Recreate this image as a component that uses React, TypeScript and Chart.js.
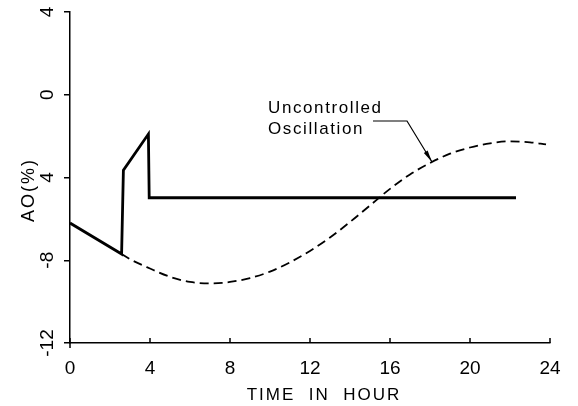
import React, { useEffect, useRef } from "react";
import { Chart, registerables } from "chart.js";

Chart.register(...registerables);

// ---- data ----
const xTickValues = [0, 4, 8, 12, 16, 20, 24];
const yTickValues = [-12, -8, -4, 0, 4];
const yTickLabels = ["-12", "-8", "4", "0", "4"];

const controlledX = [0, 2.58, 2.67, 3.92, 3.96, 22.3];
const controlledY = [-6.2, -7.7, -3.65, -1.9, -4.98, -4.98];

const uncontrolledX = [2.58, 3, 4, 5, 6, 7, 8, 9, 10, 11, 12, 13, 14, 15, 16, 17, 18, 19, 20, 21, 22, 23, 23.8];
const uncontrolledY = [-7.7, -7.95, -8.4, -8.8, -9.05, -9.12, -9.05, -8.86, -8.55, -8.1, -7.55, -6.9, -6.15, -5.35, -4.55, -3.85, -3.3, -2.85, -2.55, -2.35, -2.25, -2.3, -2.4];

const annotationLines = ["Uncontrolled", "Oscillation"];
const annotationTextX = 9.9;
const annotationTextY = [-0.64, -1.65];
const leaderX = [15.15, 16.85, 18.1];
const leaderY = [-1.27, -1.27, -3.25];

const xTitle = "TIME  IN  HOUR";
const yTitle = "AO(%)";

const FONT = "'Liberation Sans', Arial, sans-serif";

const toPoints = (xs: number[], ys: number[]) => xs.map((x, i) => ({ x, y: ys[i] }));

const overlay = {
  id: "overlay",
  afterDraw(chart: any) {
    const { ctx, scales, chartArea } = chart;
    const xs = scales.x;
    const ys = scales.y;
    ctx.save();
    ctx.fillStyle = "#000";
    ctx.strokeStyle = "#000";

    // x tick marks (inward) and y axis extension below origin
    ctx.lineWidth = 1.5;
    ctx.beginPath();
    xTickValues.forEach((v) => {
      const px = xs.getPixelForValue(v);
      ctx.moveTo(px, chartArea.bottom);
      ctx.lineTo(px, chartArea.bottom - 5);
    });
    ctx.moveTo(chartArea.left, chartArea.bottom);
    ctx.lineTo(chartArea.left, chartArea.bottom + 5);
    ctx.stroke();

    // y tick labels (rotated)
    ctx.font = `19px ${FONT}`;
    ctx.textAlign = "center";
    ctx.textBaseline = "middle";
    yTickValues.forEach((v, i) => {
      const py = ys.getPixelForValue(v);
      ctx.save();
      ctx.translate(48, py);
      ctx.rotate(-Math.PI / 2);
      ctx.fillText(yTickLabels[i], 0, 0);
      ctx.restore();
    });

    // y title
    ctx.save();
    ctx.font = `18px ${FONT}`;
    (ctx as any).letterSpacing = "2px";
    ctx.translate(29, 190);
    ctx.rotate(-Math.PI / 2);
    ctx.fillText(yTitle, 0, 0);
    ctx.restore();

    // x title
    ctx.save();
    ctx.font = `17px ${FONT}`;
    (ctx as any).letterSpacing = "2px";
    ctx.fillText(xTitle, 324, 395);
    ctx.restore();

    // annotation text
    ctx.save();
    ctx.font = `17px ${FONT}`;
    (ctx as any).letterSpacing = "1.6px";
    ctx.textAlign = "left";
    annotationLines.forEach((t, i) => {
      ctx.fillText(t, xs.getPixelForValue(annotationTextX), ys.getPixelForValue(annotationTextY[i]));
    });
    ctx.restore();

    // leader line
    const pts = leaderX.map((x, i) => [xs.getPixelForValue(x), ys.getPixelForValue(leaderY[i])]);
    ctx.lineWidth = 1.2;
    ctx.beginPath();
    ctx.moveTo(pts[0][0], pts[0][1]);
    for (let i = 1; i < pts.length; i++) ctx.lineTo(pts[i][0], pts[i][1]);
    ctx.stroke();
    // arrow head
    const [ax, ay] = pts[pts.length - 1];
    const [bx, by] = pts[pts.length - 2];
    const ang = Math.atan2(ay - by, ax - bx);
    const len = 12;
    const w = 2.2;
    ctx.beginPath();
    ctx.moveTo(ax, ay);
    ctx.lineTo(ax - len * Math.cos(ang) + w * Math.sin(ang), ay - len * Math.sin(ang) - w * Math.cos(ang));
    ctx.lineTo(ax - len * Math.cos(ang) - w * Math.sin(ang), ay - len * Math.sin(ang) + w * Math.cos(ang));
    ctx.closePath();
    ctx.fill();
    ctx.restore();
  },
};

export default function App() {
  const ref = useRef<HTMLCanvasElement | null>(null);
  useEffect(() => {
    document.body.style.margin = "0";
    const canvas = ref.current;
    if (!canvas) return;
    const chart = new Chart(canvas, {
      type: "scatter",
      data: {
        datasets: [
          {
            label: "Controlled",
            data: toPoints(controlledX, controlledY),
            showLine: true,
            borderColor: "#000",
            borderWidth: 2.8,
            pointRadius: 0,
            tension: 0,
          },
          {
            label: "Uncontrolled Oscillation",
            data: toPoints(uncontrolledX, uncontrolledY),
            showLine: true,
            borderColor: "#000",
            borderWidth: 1.8,
            borderDash: [9, 5],
            pointRadius: 0,
            cubicInterpolationMode: "monotone",
          },
        ],
      },
      options: {
        responsive: false,
        animation: false,
        events: [],
        layout: { padding: { left: 0, right: 28, top: 12, bottom: 0 } },
        plugins: { legend: { display: false }, tooltip: { enabled: false } },
        scales: {
          x: {
            type: "linear",
            min: 0,
            max: 24,
            afterBuildTicks: (s: any) => {
              s.ticks = xTickValues.map((v) => ({ value: v }));
            },
            afterFit: (s: any) => {
              s.height = 63;
            },
            ticks: {
              color: "#000",
              font: { family: FONT, size: 19 },
              padding: 14,
              maxRotation: 0,
            },
            grid: { drawOnChartArea: false, drawTicks: false, color: "#000", lineWidth: 1.5 },
            border: { display: true, color: "#000", width: 1.5 },
          },
          y: {
            type: "linear",
            min: -12,
            max: 4,
            afterBuildTicks: (s: any) => {
              s.ticks = yTickValues.map((v) => ({ value: v }));
            },
            afterFit: (s: any) => {
              s.width = 70;
            },
            ticks: { display: false },
            grid: { drawOnChartArea: false, drawTicks: true, tickLength: 6, color: "#000", lineWidth: 1.5 },
            border: { display: true, color: "#000", width: 1.5 },
          },
        },
      },
      plugins: [overlay],
    });
    return () => chart.destroy();
  }, []);
  return (
    <div style={{ width: 578, height: 406 }}>
      <canvas ref={ref} width={578} height={406} />
    </div>
  );
}
